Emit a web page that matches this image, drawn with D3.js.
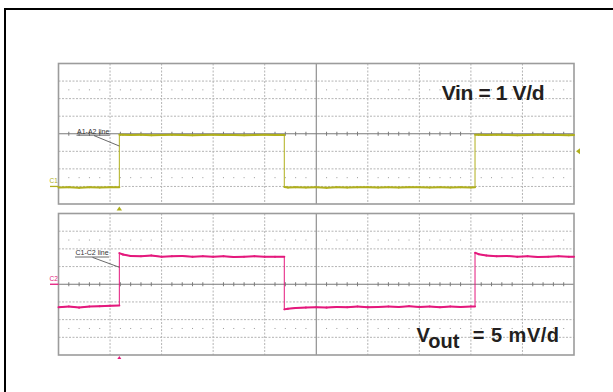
<!DOCTYPE html>
<html>
<head>
<meta charset="utf-8">
<script src="https://cdn.jsdelivr.net/npm/d3@7"></script>
<style>
  html, body { margin: 0; padding: 0; background: #fff; }
  svg { display: block; font-family: "Liberation Sans", Arial, Helvetica, sans-serif; }
</style>
</head>
<body>
<svg id="chart" width="613" height="392"></svg>
<script>
// Sample times, in horizontal divisions (0..10); edges appear twice.
const time = [
  0, 0.2, 0.4, 0.6, 0.8, 1.0, 1.18, 1.18, 1.25,
  1.4, 1.6, 1.8, 2.0, 2.2, 2.4, 2.6, 2.8, 3.0, 3.2, 3.4, 3.6, 3.8, 4.0, 4.2,
  4.38, 4.38, 4.45,
  4.6, 4.8, 5.0, 5.2, 5.4, 5.6, 5.8, 6.0, 6.2, 6.4, 6.6, 6.8, 7.0, 7.2, 7.4, 7.6, 7.8, 8.0,
  8.08, 8.08, 8.15,
  8.3, 8.5, 8.7, 8.9, 9.1, 9.3, 9.5, 9.7, 9.9, 10.0
];

// Input step, volts (1 V/div)
const vinVolts = [
  -0.06, -0.05, -0.07, -0.05, -0.06, -0.05, -0.05, 2.95, 2.94,
  2.93, 2.94, 2.92, 2.93, 2.94, 2.93, 2.92, 2.93, 2.94, 2.93, 2.93, 2.92, 2.93, 2.94, 2.93,
  2.93, -0.03, -0.06,
  -0.05, -0.06, -0.05, -0.07, -0.05, -0.06, -0.05, -0.04, -0.06, -0.05, -0.06, -0.04, -0.05, -0.06, -0.05, -0.06, -0.05, -0.06,
  -0.05, 2.95, 2.94,
  2.93, 2.94, 2.93, 2.92, 2.93, 2.94, 2.93, 2.93, 2.92, 2.93
];

// Output response, millivolts (5 mV/div)
const voutMillivolts = [
  -6.5, -6.3, -6.6, -6.3, -6.2, -6.1, -6.0, 8.8, 8.4,
  8.0, 7.9, 8.1, 7.8, 7.9, 8.0, 7.8, 7.9, 7.8, 7.9, 7.7, 7.8, 7.9, 7.8, 7.8,
  7.8, -7.1, -6.9,
  -6.7, -6.6, -6.5, -6.6, -6.4, -6.5, -6.3, -6.5, -6.4, -6.3, -6.4, -6.2, -6.4, -6.3, -6.5, -6.3, -6.4, -6.3,
  -6.3, 8.9, 8.5,
  8.1, 7.9, 8.0, 7.8, 7.9, 7.7, 7.8, 7.9, 7.8, 7.8
];

const triggerTime = 1.18;   // div
const triggerLevel = 2;     // V

const VIN_COLOR = "#b0af1c";
const VOUT_COLOR = "#e4187c";

const svg = d3.select("#chart");

// page frame
svg.append("rect")
  .attr("x", 5).attr("y", 9).attr("width", 640).attr("height", 420)
  .attr("fill", "none").attr("stroke", "#000").attr("stroke-width", 2);

const x = d3.scaleLinear().domain([0, 10]).range([58.5, 574]);
const yVin = d3.scaleLinear().domain([-1, 7]).range([204, 63.5]);
const yVout = d3.scaleLinear().domain([-20, 20]).range([355, 213.5]);

function graticule(y, perDiv) {
  const g = svg.append("g");
  const [bottom, top] = y.range();
  const d0 = y.domain()[0];
  const center = d0 + 4 * perDiv;
  const xMajor = d3.range(1, 10).filter(d => d !== 5);
  const yMajor = d3.range(1, 8).filter(d => d !== 4).map(i => d0 + i * perDiv);
  const minor = d3.range(1, 50).filter(k => k % 5 !== 0).map(k => k * 0.2);

  g.selectAll(".vg").data(xMajor).join("line")
    .attr("x1", d => x(d)).attr("x2", d => x(d))
    .attr("y1", top).attr("y2", bottom)
    .attr("stroke", "#b4b4b4").attr("stroke-dasharray", "2,1.5");
  g.selectAll(".hg").data(yMajor).join("line")
    .attr("x1", x(0)).attr("x2", x(10))
    .attr("y1", d => y(d)).attr("y2", d => y(d))
    .attr("stroke", "#b4b4b4").attr("stroke-dasharray", "2,1.5");

  // dotted rows at ±2.5 div
  [center + 2.5 * perDiv, center - 2.5 * perDiv].forEach(v => {
    g.selectAll(null).data(minor).join("rect")
      .attr("x", d => x(d) - 0.5).attr("y", y(v) - 0.5)
      .attr("width", 1).attr("height", 1).attr("fill", "#9a9a9a");
  });

  // centre cross and its ticks
  g.append("line")
    .attr("x1", x(5)).attr("x2", x(5)).attr("y1", top).attr("y2", bottom)
    .attr("stroke", "#7a7a7a");
  g.append("line")
    .attr("x1", x(0)).attr("x2", x(10)).attr("y1", y(center)).attr("y2", y(center))
    .attr("stroke", "#7a7a7a");
  g.selectAll(".tk").data(minor).join("line")
    .attr("x1", d => x(d)).attr("x2", d => x(d))
    .attr("y1", y(center) - 2).attr("y2", y(center) + 2)
    .attr("stroke", "#7a7a7a");

  g.append("rect")
    .attr("x", x(0)).attr("y", top)
    .attr("width", x(10) - x(0)).attr("height", bottom - top)
    .attr("fill", "none").attr("stroke", "#9c9c9c").attr("stroke-width", 1.6);
}

graticule(yVin, 1);
graticule(yVout, 5);

function trace(values, y, color) {
  const pts = time.map((t, i) => [x(t), y(values[i])]);
  const g = svg.append("g");
  g.append("path")
    .attr("d", d3.line()(pts))
    .attr("fill", "none").attr("stroke", color).attr("stroke-width", 1);
  g.selectAll("line").data(d3.pairs(pts).filter(([a, b]) => a[0] !== b[0])).join("line")
    .attr("x1", d => d[0][0]).attr("y1", d => d[0][1])
    .attr("x2", d => d[1][0]).attr("y2", d => d[1][1])
    .attr("stroke", color).attr("stroke-width", 2).attr("stroke-linecap", "round");
}

trace(vinVolts, yVin, VIN_COLOR);
trace(voutMillivolts, yVout, VOUT_COLOR);

// channel ground markers
function channelMarker(label, yPos, color) {
  svg.append("text").attr("x", 49.5).attr("y", yPos - 3)
    .attr("font-size", 6.5).attr("fill", color).text(label);
  svg.append("line").attr("x1", 50).attr("x2", x(0)).attr("y1", yPos).attr("y2", yPos)
    .attr("stroke", color).attr("stroke-width", 1.3);
}
channelMarker("C1", yVin(0), VIN_COLOR);
channelMarker("C2", yVout(0), VOUT_COLOR);

// trigger position and level markers
const tx = x(triggerTime);
svg.append("path")
  .attr("d", `M${tx},${yVin.range()[0] + 2.5} l2.7,4 h-5.4 z`).attr("fill", VIN_COLOR);
svg.append("path")
  .attr("d", `M${tx},${yVout.range()[0] + 1} l2,3 h-4 z`).attr("fill", VOUT_COLOR);
svg.append("path")
  .attr("d", `M${x(10) + 2},${yVin(triggerLevel)} l4,-3 v6 z`).attr("fill", VIN_COLOR);

// cursor labels
function cursorLabel(text, lx, ly, ex, ey) {
  const g = svg.append("g");
  const t = g.append("text").attr("x", lx).attr("y", ly)
    .attr("font-size", 7).attr("fill", "#333").text(text);
  const w = t.node().getComputedTextLength();
  g.append("line").attr("x1", lx - 0.5).attr("x2", lx + w + 0.5)
    .attr("y1", ly + 1.6).attr("y2", ly + 1.6).attr("stroke", "#444").attr("stroke-width", 0.8);
  g.append("line").attr("x1", lx + 17).attr("y1", ly + 2)
    .attr("x2", ex).attr("y2", ey).attr("stroke", "#444").attr("stroke-width", 0.8);
}
cursorLabel("A1-A2 line", 77, 133.6, tx, yVin(2.3));
cursorLabel("C1-C2 line", 75.5, 255.4, tx, yVout(4.8));

// scale annotations
svg.append("text").attr("x", 441.7).attr("y", 100)
  .attr("font-size", 21).attr("font-weight", "bold").attr("fill", "#231f20")
  .attr("letter-spacing", -0.35)
  .text("Vin = 1 V/d");

const vo = svg.append("text").attr("x", 416.5).attr("y", 342)
  .attr("font-size", 20).attr("font-weight", "bold").attr("fill", "#231f20");
vo.append("tspan").text("V");
vo.append("tspan").attr("dy", 6).text("out");
vo.append("tspan").attr("x", 472.7).attr("dy", -6).attr("letter-spacing", 0.5).text("= 5 mV/d");
</script>
</body>
</html>
